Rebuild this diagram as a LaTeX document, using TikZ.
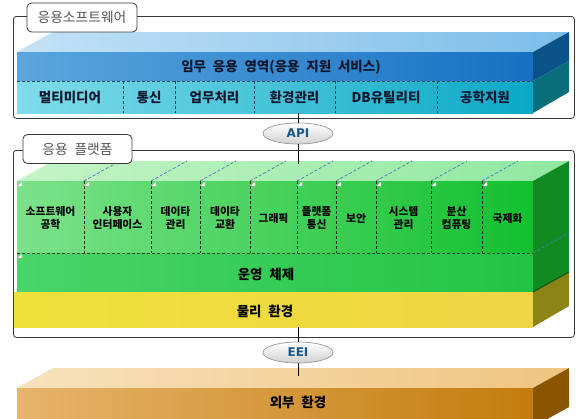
\documentclass[tikz,border=0pt]{standalone}
\usepackage{fontspec}
\newfontfamily\kr{Noto Sans CJK KR}[WordSpace=2.2]
\newfontfamily\latf{DejaVu Sans}
\usetikzlibrary{shapes.geometric}
\definecolor{bluetopL}{HTML}{C3E2F6}
\definecolor{bluetopR}{HTML}{7CBDE9}
\definecolor{blueAL}{HTML}{5AA6DE}
\definecolor{blueAR}{HTML}{1670C2}
\definecolor{blueBL}{HTML}{80DCEA}
\definecolor{blueBR}{HTML}{0AA8C6}
\definecolor{bluesideA}{HTML}{0B5288}
\definecolor{bluesideB}{HTML}{0A6E7A}
\definecolor{greentopL}{HTML}{C4F4C6}
\definecolor{greentopR}{HTML}{90E8A0}
\definecolor{greenmodL}{HTML}{7CE28A}
\definecolor{greenmodR}{HTML}{12C02E}
\definecolor{greenosL}{HTML}{4AD46A}
\definecolor{greenosR}{HTML}{22C444}
\definecolor{greenside}{HTML}{128A22}
\definecolor{yellowL}{HTML}{EFE23A}
\definecolor{yellowR}{HTML}{EFD444}
\definecolor{yellowside}{HTML}{8C8414}
\definecolor{orangetopL}{HTML}{F7E2BC}
\definecolor{orangetopR}{HTML}{EFC480}
\definecolor{orangeL}{HTML}{E6B46C}
\definecolor{orangeR}{HTML}{C47C0C}
\definecolor{orangeside}{HTML}{8A5500}
\definecolor{apiblue}{HTML}{1A5A8A}
\definecolor{framegray}{HTML}{3A3A3A}
\definecolor{labelgray}{HTML}{555555}
\definecolor{navytext}{HTML}{101830}
\definecolor{topdashc}{HTML}{4A78B0}
\begin{document}
\begin{tikzpicture}[x=1pt,y=-1pt,
  framebox/.style={draw=framegray,line width=0.8pt,fill=white,rounded corners=3pt,inner sep=0pt,anchor=north west},
  labelbox/.style={draw=framegray,line width=0.8pt,fill=white,rounded corners=4.5pt,inner sep=0pt,
     minimum height=29pt,text=labelgray,font=\kr\fontsize{13.8}{15}\selectfont},
  bigtext/.style={font=\kr\bfseries\fontsize{13.5}{15}\selectfont,text=navytext,inner sep=0pt},
  modtext/.style={font=\kr\bfseries\fontsize{10.8}{12.5}\selectfont,text=black,align=center,inner sep=0pt},
  divider/.style={dash pattern=on 3pt off 2pt,line width=0.6pt,draw=black!85},
  bdivider/.style={dash pattern=on 3pt off 2pt,line width=0.6pt,draw=bluesideB!60!black},
  topdash/.style={dash pattern=on 3pt off 2pt,line width=0.7pt,draw=topdashc},
  conn/.style={draw=black,line width=0.8pt},
  iface/.style={ellipse,draw=black!40,line width=0.7pt,minimum width=70pt,minimum height=21pt,inner sep=0pt,
     top color=white,bottom color=black!18,text=apiblue,font=\latf\bfseries\fontsize{12}{12}\selectfont},
  corner/.style={fill=white,draw=black!30,line width=0.2pt}]
\useasboundingbox (0,0) rectangle (581,418);
\fill[white] (0,0) rectangle (581,418);

% frames
\node[framebox,minimum width=561pt,minimum height=102pt] (swframe) at (13,16) {};
\node[framebox,minimum width=561pt,minimum height=187pt] (pfframe) at (13,150) {};

% ===== blue block (application software)
\path[left color=bluetopL,right color=bluetopR] (17,52) -- (53,32) -- (569,32) -- (533,52) -- cycle;
\path[left color=blueAL,right color=blueAR] (17,52) rectangle (533,81);
\path[left color=blueBL,right color=blueBR] (17,81) rectangle (533,113);
\fill[bluesideA] (533,52) -- (569,32) -- (569,61) -- (533,81) -- cycle;
\fill[bluesideB] (533,81) -- (569,61) -- (569,92) -- (533,113) -- cycle;
\draw[bdivider] (17,81) -- (533,81);
\foreach \x in {123,175,254,335,437} \draw[bdivider] (\x,81) -- (\x,113);
\node[bigtext] (mission) at (281,67) {임무 응용 영역(응용 지원 서비스)};
\foreach \a/\b/\t/\n in {17/123/멀티미디어/s1,123/175/통신/s2,175/254/업무처리/s3,254/335/환경관리/s4,335/437/DB유틸리티/s5,437/533/공학지원/s6}
  \node[bigtext] (\n) at ({(\a+\b)/2},97) {\t};

% ===== green block (application platform)
\path[left color=greentopL,right color=greentopR] (17,181) -- (53,161) -- (569,161) -- (533,181) -- cycle;
\path[left color=greenmodL,right color=greenmodR] (17,181) rectangle (533,253);
\path[left color=greenosL,right color=greenosR] (17,253) rectangle (533,292);
\fill[greenside] (533,181) -- (569,161) -- (569,272) -- (533,292) -- cycle;
\path[left color=yellowL,right color=yellowR] (14,292) rectangle (533,327);
\fill[yellowside] (533,292) -- (569,272) -- (569,306) -- (533,327) -- cycle;
\draw[greenside!60!black,line width=1pt] (533,292) -- (569,272);
\draw[divider,draw=black!50!greenside] (17,253) -- (533,253);
\draw[topdash] (533,253) -- (569,233);
\foreach \x in {84,151,200,250,297,336,376,431,482} {
  \draw[divider] (\x,181) -- (\x,253);
  \draw[topdash] (\x,181) -- ({\x+36},161);
}
\foreach \x in {17,84,151,200,250,297,336,376,431,482}
  \path[corner] ({\x+0.5},186) -- ({\x+5},181.5) -- ({\x+5},186) -- cycle;
\path[corner] (17.5,258) -- (22,253.5) -- (22,258) -- cycle;
\foreach \a/\b/\t/\n in {17/84/{소프트웨어\\공학}/m1,84/151/{사용자\\인터페이스}/m2,151/200/{데이타\\관리}/m3,
   200/250/{데이타\\교환}/m4,250/297/{그래픽}/m5,297/336/{플랫폼\\통신}/m6,336/376/{보안}/m7,
   376/431/{시스템\\관리}/m8,431/482/{분산\\컴퓨팅}/m9,482/533/{국제화}/m10}
  \node[modtext] (\n) at ({(\a+\b)/2},218) {\t};
\node[bigtext,text=black] (os) at (266,274) {운영 체제};
\node[bigtext,text=black] (phys) at (265,311) {물리 환경};

% ===== orange block (external environment)
\begin{scope}
\clip (0,0) rectangle (581,418);
\path[left color=orangetopL,right color=orangetopR] (17,388) -- (53,368) -- (569,368) -- (533,388) -- cycle;
\path[left color=orangeL,right color=orangeR] (17,388) rectangle (533,420);
\fill[orangeside] (533,388) -- (569,368) -- (569,407) -- (533,427) -- cycle;
\end{scope}
\node[bigtext,text=black] (ext) at (298,402) {외부 환경};

% ===== labels
\node[labelbox,minimum width=110pt] (swlabel) at (82,17.5) {응용소프트웨어};
\node[labelbox,minimum width=109pt] (pflabel) at (77.5,149) {응용 플랫폼};

% ===== interfaces
\node[iface] (api) at (298,133.5) {API};
\node[iface] (eei) at (298,352.5) {EEI};
\coordinate (apiTop) at (298,113);
\coordinate (apiBot) at (298,164);
\coordinate (eeiTop) at (298,327);
\coordinate (eeiBot) at (298,376);
\draw[conn] (apiTop) -- (api.north);
\draw[conn] (api.south) -- (apiBot);
\draw[conn] (eeiTop) -- (eei.north);
\draw[conn] (eei.south) -- (eeiBot);
\end{tikzpicture}
\end{document}
